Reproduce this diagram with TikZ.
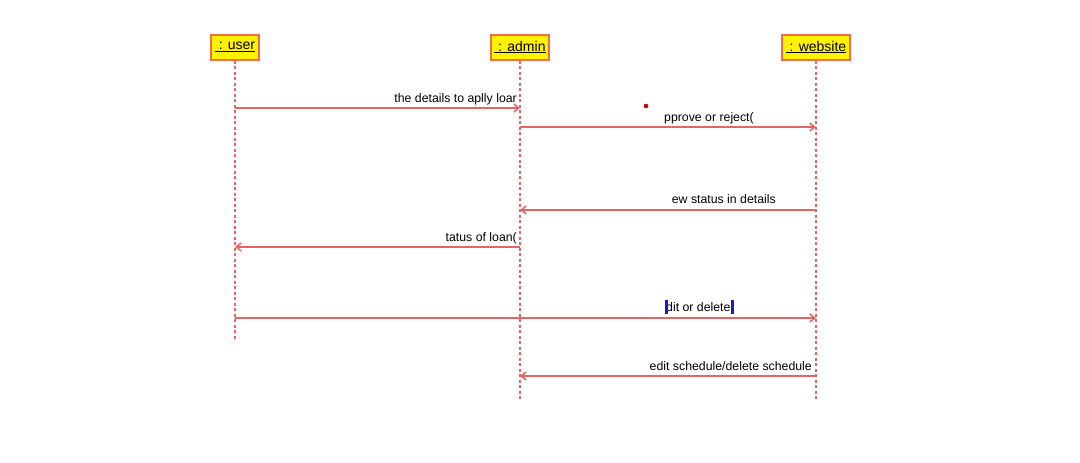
\documentclass[tikz,border=0pt]{standalone}
\usepackage{fontspec}
\setmainfont{Liberation Sans}
\usepackage{tikz}
\usetikzlibrary{positioning}
\usetikzlibrary{arrows.meta}
\usepackage{xcolor}
\definecolor{lifered}{RGB}{230,100,100}
\definecolor{boxedge}{RGB}{240,110,70}
\definecolor{handleblue}{RGB}{20,30,200}

\tikzset{
  objbox/.style={draw=boxedge, fill=yellow, line width=2pt, minimum height=25, inner xsep=3.5, inner ysep=2, font=\fontsize{14}{16}\selectfont},
  lifeline/.style={lifered, line width=1.4pt, dash pattern=on 3pt off 2.5pt},
  msg/.style={lifered, line width=1.5pt, -{Straight Barb[length=5pt,width=8pt]}},
  msgtext/.style={inner sep=0pt, font=\fontsize{12.3}{14}\selectfont}
}

\begin{document}
\begin{tikzpicture}[x=1pt,y=-1pt]

\useasboundingbox (0,0) rectangle (1080,463);

% objects
\node[objbox] (user) at (235,47) {\underline{\ : user}};
\node[objbox] (admin) at (520,47) {\underline{\ : admin}};
\node[objbox] (website) at (816,47) {\underline{\ : website}};

% lifeline ends
\coordinate (user end) at (235,340);
\coordinate (admin end) at (520,400);
\coordinate (website end) at (816,400);

\draw[lifeline] (user) -- (user end);
\draw[lifeline] (admin) -- (admin end);
\draw[lifeline] (website) -- (website end);

% message points
\coordinate (u1) at (235,108);
\coordinate (a1) at (520,108);
\coordinate (a2) at (520,127);
\coordinate (w2) at (816,127);
\coordinate (w3) at (816,210);
\coordinate (a3) at (520,210);
\coordinate (a4) at (520,247);
\coordinate (u4) at (235,247);
\coordinate (u5) at (235,318);
\coordinate (w5) at (816,318);
\coordinate (w6) at (816,376);
\coordinate (a6) at (520,376);

\draw[msg] (u1) -- (a1);
\draw[msg] (a2) -- (w2);
\draw[msg] (w3) -- (a3);
\draw[msg] (a4) -- (u4);
\draw[msg] (u5) -- (w5);
\draw[msg] (w6) -- (a6);

% labels
{
\node[msgtext, anchor=base east] (l1) at (517,102) {the details to aplly loar};
\node[msgtext, anchor=base west] (l2) at (664,121) {pprove or reject(};
\node[msgtext, anchor=base east] (l3) at (776,203) {ew status in details};
\node[msgtext, anchor=base east] (l4) at (517,241) {tatus of loan(};
\node[msgtext, anchor=base west] (l5) at (666,311) {dit or delete};
\node[msgtext, anchor=base east] (l6) at (812,370) {edit schedule/delete schedule};
}

% marks
\fill[red!80!black] (646,106) circle [radius=2.3];
\fill[handleblue] (664.5,300) rectangle (667.5,314);
\fill[handleblue] (731,300) rectangle (734,314);

\end{tikzpicture}
\end{document}
